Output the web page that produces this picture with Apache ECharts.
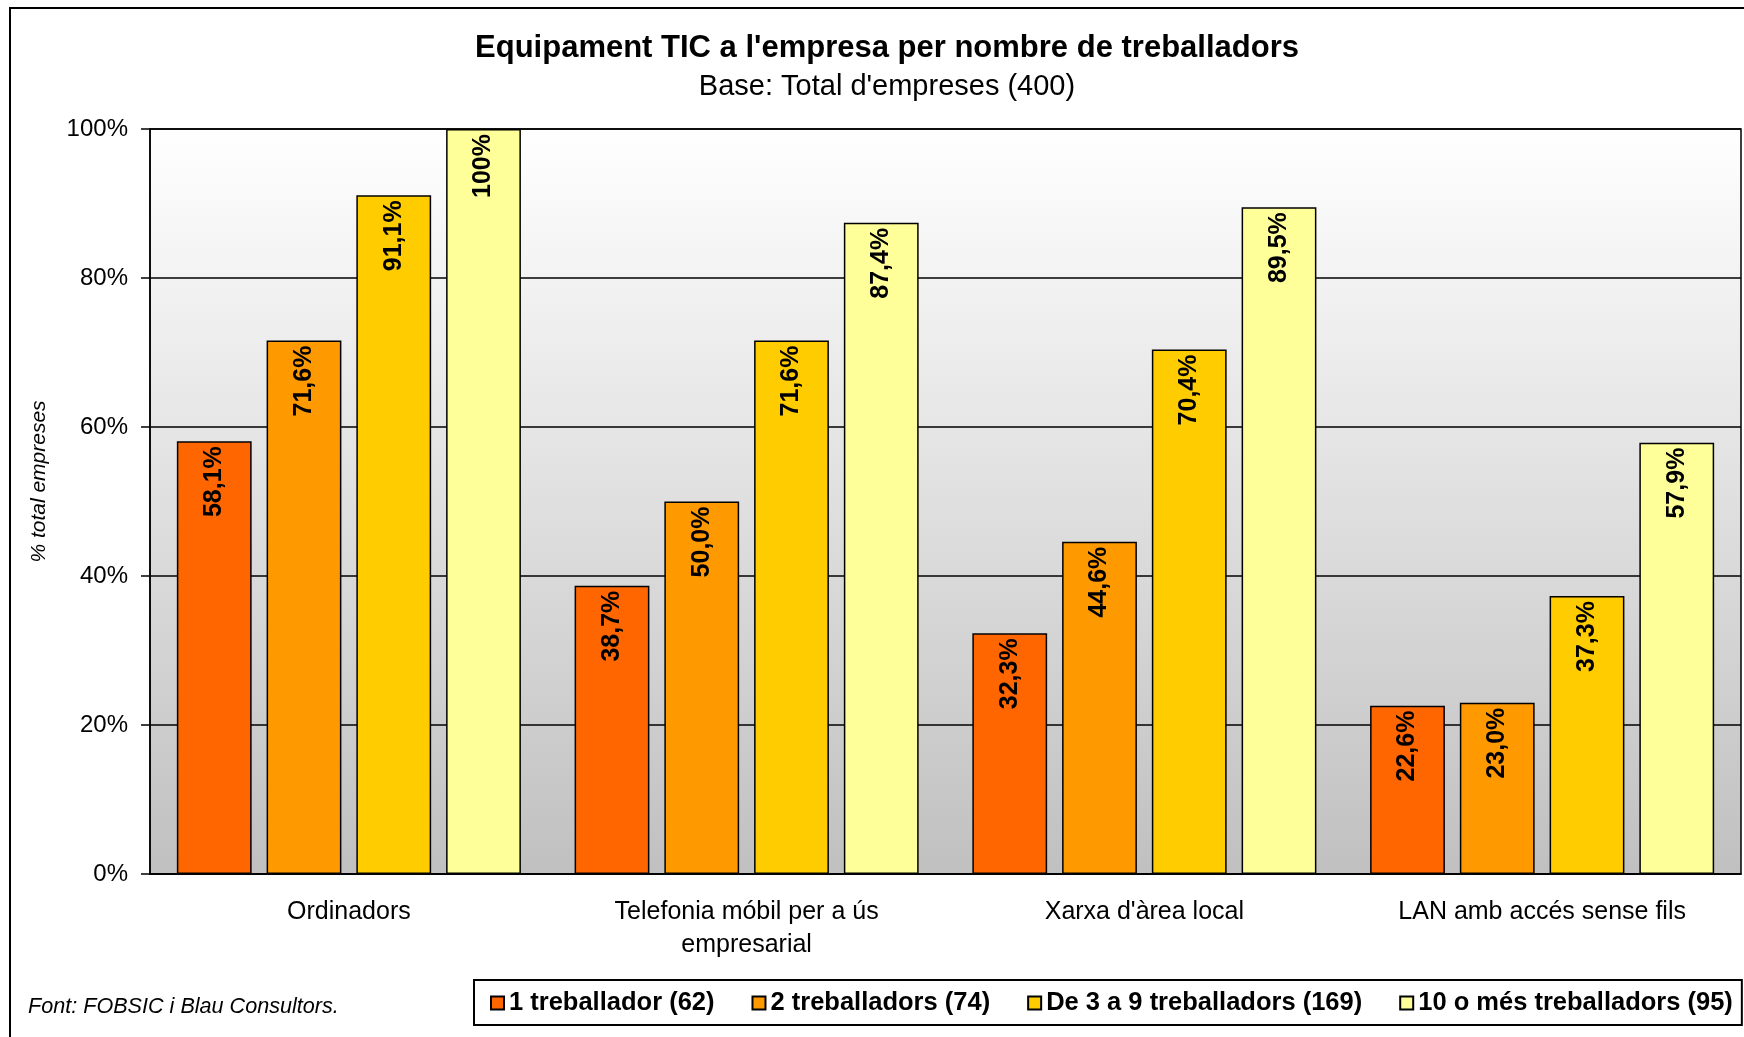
<!DOCTYPE html>
<html>
<head>
<meta charset="utf-8">
<script src="https://cdn.jsdelivr.net/npm/echarts@6/dist/echarts.min.js"></script>
<style>
  html, body { margin: 0; padding: 0; background: #fff; }
  #chart { width: 1744px; height: 1037px; }
</style>
</head>
<body>
<div id="chart"></div>
<script>
// dades llegides del gràfic
const categories = ['Ordinadors', 'Telefonia móbil per a ús\nempresarial', "Xarxa d'àrea local", 'LAN amb accés sense fils'];
const seriesNames = ['1 treballador (62)', '2 treballadors (74)', 'De 3 a 9 treballadors (169)', '10 o més treballadors (95)'];
const seriesColors = ['#FF6600', '#FF9900', '#FFCC00', '#FFFF99'];
const oneWorker = [58.1, 38.7, 32.3, 22.6];
const twoWorkers = [71.6, 50.0, 44.6, 23.0];
const threeToNine = [91.1, 71.6, 70.4, 37.3];
const tenOrMore = [100, 87.4, 89.5, 57.9];
const seriesValues = [oneWorker, twoWorkers, threeToNine, tenOrMore];

const font = 'Liberation Sans, Arial, sans-serif';

const barLabel = {
  show: true,
  position: 'insideTop',
  rotate: 90,
  align: 'right',
  verticalAlign: 'middle',
  distance: 5,
  fontFamily: font,
  fontWeight: 'bold',
  fontSize: 25,
  color: '#000',
  formatter: (p) => p.value === 100 ? '100%' : p.value.toFixed(1).replace('.', ',') + '%'
}

let chart = echarts.init(document.getElementById('chart'), null, {renderer: 'canvas'});
let option = {
  animation: false,
  backgroundColor: '#fff',
  textStyle: {fontFamily: font, color: '#000'},
  title: [
    {
      text: "Equipament TIC a l'empresa per nombre de treballadors",
      left: 887, top: 33, padding: 0, textAlign: 'center',
      textStyle: {fontFamily: font, fontSize: 31, fontWeight: 'bold', color: '#000'}
    },
    {
      text: "Base: Total d'empreses (400)",
      left: 887, top: 72, padding: 0, textAlign: 'center',
      textStyle: {fontFamily: font, fontSize: 29, fontWeight: 'normal', color: '#000'}
    },
    {
      text: 'Font: FOBSIC i Blau Consultors.',
      left: 28, top: 996, padding: 0,
      textStyle: {fontFamily: font, fontSize: 21.6, fontWeight: 'normal', fontStyle: 'italic', color: '#000'}
    }
  ],
  legend: {
    left: 474, top: 980,
    padding: [10, 9, 9, 16],
    borderColor: '#000', borderWidth: 2,
    itemGap: 37, itemWidth: 13, itemHeight: 13,
    icon: 'rect',
    textStyle: {fontFamily: font, fontSize: 25.5, fontWeight: 'bold', color: '#000'},
    data: seriesNames
  },
  grid: {
    left: 150, right: 3, top: 129, bottom: 163,
    show: true,
    borderColor: '#000', borderWidth: 1.5,
    backgroundColor: new echarts.graphic.LinearGradient(0, 0, 0, 1, [
      {offset: 0, color: '#FFFFFF'},
      {offset: 1, color: '#C0C0C0'}
    ])
  },
  xAxis: {
    type: 'category',
    data: categories,
    axisLine: {lineStyle: {color: '#000', width: 1.5}},
    axisTick: {length: 9, lineStyle: {color: '#000', width: 1.5}},
    axisLabel: {interval: 0, margin: 22, fontFamily: font, fontSize: 25, lineHeight: 33, color: '#000'}
  },
  yAxis: {
    type: 'value',
    min: 0, max: 100, interval: 20,
    name: '% total empreses',
    nameLocation: 'middle',
    nameRotate: 90,
    nameGap: 100,
    nameTextStyle: {fontFamily: font, fontSize: 21, fontStyle: 'italic', color: '#000', padding: [0, 0, 0, 40]},
    axisLine: {show: true, lineStyle: {color: '#000', width: 1.5}},
    axisTick: {show: true, length: 9, lineStyle: {color: '#000', width: 1.5}},
    axisLabel: {margin: 22, fontFamily: font, fontSize: 24, color: '#000', formatter: '{value}%'},
    splitLine: {show: true, lineStyle: {color: '#000', width: 1.5}}
  },
  series: seriesNames.map((name, i) => ({
    name: name,
    type: 'bar',
    data: seriesValues[i],
    barGap: '20%',
    barCategoryGap: '13.5%',
    itemStyle: {color: seriesColors[i], borderColor: '#000', borderWidth: 1.5},
    label: barLabel
  })),
  graphic: [
    {
      type: 'rect',
      shape: {x: 10, y: 8, width: 1760, height: 1060},
      style: {fill: null, stroke: '#000', lineWidth: 2},
      silent: true,
      z: 100
    }
  ]
};
chart.setOption(option)
</script>
</body>
</html>
